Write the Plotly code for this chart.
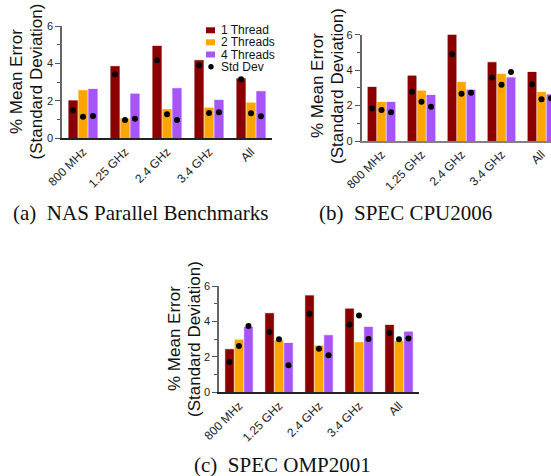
import plotly.graph_objects as go

# ---------------- data ----------------
categories = ["800 MHz", "1.25 GHz", "2.4 GHz", "3.4 GHz", "All"]
series_names = ["1 Thread", "2 Threads", "4 Threads"]
y_ticks = [0, 2, 4, 6]

# (a) NAS Parallel Benchmarks
nas_mean_1 = [2.02, 3.86, 4.95, 4.18, 3.20]
nas_mean_2 = [2.57, 1.05, 1.55, 1.63, 1.91]
nas_mean_4 = [2.64, 2.38, 2.68, 2.05, 2.52]
nas_std_1 = [1.50, 3.43, 4.18, 3.91, 3.16]
nas_std_2 = [1.16, 0.98, 1.29, 1.36, 1.34]
nas_std_4 = [1.20, 1.05, 0.98, 1.39, 1.18]

# (b) SPEC CPU2006
cpu_mean_1 = [3.05, 3.68, 6.05, 4.45, 3.89]
cpu_mean_2 = [2.20, 2.84, 3.33, 3.78, 2.76]
cpu_mean_4 = [2.20, 2.59, 2.89, 3.59, 2.63]
cpu_std_1 = [1.84, 2.78, 4.89, 3.59, 3.21]
cpu_std_2 = [1.75, 2.22, 2.67, 3.18, 2.35]
cpu_std_4 = [1.62, 1.94, 2.73, 3.89, 2.41]

# (c) SPEC OMP2001
omp_mean_1 = [2.43, 4.46, 5.47, 4.72, 3.80]
omp_mean_2 = [2.97, 2.93, 2.63, 2.82, 2.88]
omp_mean_4 = [3.69, 2.78, 3.22, 3.69, 3.42]
omp_std_1 = [1.71, 3.40, 4.44, 3.82, 3.35]
omp_std_2 = [2.61, 2.99, 2.46, 4.33, 2.99]
omp_std_4 = [3.74, 1.52, 2.09, 3.01, 3.03]

captions = ["(a)  NAS Parallel Benchmarks", "(b)  SPEC CPU2006", "(c)  SPEC OMP2001"]
y_title_lines = ["% Mean Error", "(Standard Deviation)"]

# ---------------- styling ----------------
W, H = 551, 476
colors = ["#8B0000", "#FFA500", "#A855F7"]
edge = ["rgba(139,0,0,0.3)", "rgba(255,165,0,0.3)", "rgba(168,85,247,0.3)"]
SANS = "Liberation Sans, Arial, sans-serif"
SERIF = "Liberation Serif, Times New Roman, serif"


def px(x):
    return x / W


def py(y):
    return 1 - y / H


panels = [
    dict(means=[nas_mean_1, nas_mean_2, nas_mean_4], stds=[nas_std_1, nas_std_2, nas_std_4],
         xd=(62, 272), yd=(26.3, 138.3), xr=(-0.5, 4.5), xline="#222222"),
    dict(means=[cpu_mean_1, cpu_mean_2, cpu_mean_4], stds=[cpu_std_1, cpu_std_2, cpu_std_4],
         xd=(361.5, 551), yd=(34.7, 141), xr=(-0.5, -0.5 + (551 - 361.5) / 40), xline="#808080"),
    dict(means=[omp_mean_1, omp_mean_2, omp_mean_4], stds=[omp_std_1, omp_std_2, omp_std_4],
         xd=(219, 419), yd=(286, 392.3), xr=(-0.5, 4.5), xline="#222222"),
]

fig = go.Figure()
layout_axes = {}
for i, p in enumerate(panels):
    n = "" if i == 0 else str(i + 1)
    xa, ya = "x" + n, "y" + n
    for k in range(3):
        fig.add_trace(go.Bar(
            x=categories, y=p["means"][k], name=series_names[k],
            marker=dict(color=colors[k], line=dict(color=edge[k], width=1)),
            offsetgroup=str(k), xaxis=xa, yaxis=ya, showlegend=False,
        ))
    for k in range(3):
        fig.add_trace(go.Scatter(
            x=categories, y=p["stds"][k], mode="markers", name="Std Dev",
            marker=dict(color="black", size=6),
            offsetgroup=str(k), xaxis=xa, yaxis=ya, showlegend=False,
            cliponaxis=False,
        ))
    layout_axes["xaxis" + n] = dict(
        domain=[px(p["xd"][0]), px(p["xd"][1])], range=list(p["xr"]),
        anchor=ya, type="category", showgrid=False, zeroline=False, automargin=False,
        showline=True, linecolor=p["xline"], linewidth=1.6,
        ticks="", tickangle=-45, tickfont=dict(family=SANS, size=12, color="#222"),
    )
    layout_axes["yaxis" + n] = dict(
        domain=[py(p["yd"][1]), py(p["yd"][0])], range=[0, 6],
        anchor=xa, showgrid=False, zeroline=False, automargin=False,
        showline=True, linecolor="#666", linewidth=1.5,
        tickvals=y_ticks, ticks="outside", ticklen=5, tickcolor="#555", tickwidth=1,
        tickfont=dict(family=SANS, size=11, color="#222"),
        minor=dict(tickvals=[1, 3, 5], ticks="outside", ticklen=3, tickcolor="#555"),
    )

annotations = []
# y-axis titles (two lines each)
for (x1, x2, yc) in [(16, 35.5, 82), (317, 337, 86), (174, 194, 339)]:
    for line, xc in zip(y_title_lines, (x1, x2)):
        annotations.append(dict(
            text=line, x=px(xc), y=py(yc), xref="paper", yref="paper",
            xanchor="center", yanchor="middle", textangle=-90, showarrow=False,
            font=dict(family=SANS, size=17, color="#111"),
        ))
# captions
for cap, (xc, yc) in zip(captions, [(140, 213), (405, 213), (282, 465)]):
    annotations.append(dict(
        text=cap, x=px(xc), y=py(yc), xref="paper", yref="paper",
        xanchor="center", yanchor="middle", showarrow=False,
        font=dict(family=SERIF, size=21, color="#111"),
    ))

# manual legend (panel a)
shapes = []
legend_rows = [30.3, 42.3, 54.5, 66.7]
legend_labels = series_names + ["Std Dev"]
for r, (yc, lab) in enumerate(zip(legend_rows, legend_labels)):
    if r < 3:
        shapes.append(dict(type="rect", xref="paper", yref="paper",
                           x0=px(206), x1=px(215), y0=py(yc + 3), y1=py(yc - 3),
                           fillcolor=colors[r], line=dict(width=0)))
    else:
        shapes.append(dict(type="circle", xref="paper", yref="paper",
                           x0=px(208.3), x1=px(213.7), y0=py(yc + 2.7), y1=py(yc - 2.7),
                           fillcolor="black", line=dict(width=0)))
    annotations.append(dict(
        text=lab, x=px(219), y=py(yc), xref="paper", yref="paper",
        xanchor="left", yanchor="middle", showarrow=False,
        font=dict(family=SANS, size=12, color="#111"),
    ))

fig.update_layout(
    width=W, height=H, margin=dict(l=0, r=0, t=0, b=0, autoexpand=False),
    paper_bgcolor="white", plot_bgcolor="white",
    barmode="group", bargap=0.29, bargroupgap=0.1,
    scattermode="group", scattergap=0.29,
    showlegend=False, annotations=annotations, shapes=shapes,
    **layout_axes,
)

fig.write_html(
    "out.html",
    config={"displayModeBar": False},
    post_script="document.body.style.margin='0';document.body.style.padding='0';document.body.style.overflow='hidden';",
)
